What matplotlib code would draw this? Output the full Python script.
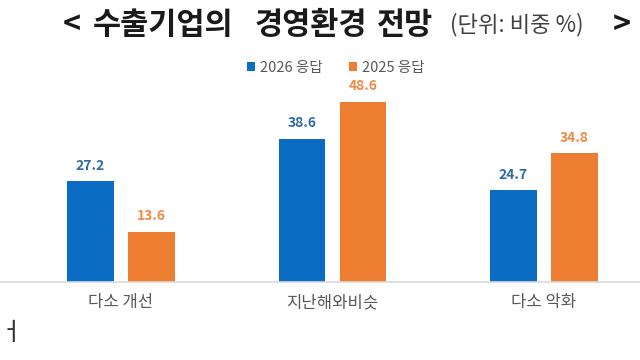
import matplotlib.pyplot as plt
import numpy as np

plt.rcParams['font.family'] = ['Noto Sans CJK KR', 'DejaVu Sans']

categories = ['다소 개선', '지난해와비슷', '다소 악화']
resp_2026 = [27.2, 38.6, 24.7]
resp_2025 = [13.6, 48.6, 34.8]
series_names = ['2026 응답', '2025 응답']

BLUE = '#0a6cc2'
ORANGE = '#ed7d31'


def main():
    fig = plt.figure(figsize=(6.4, 3.6), dpi=100)
    ax = fig.add_axes([0, 0.2167, 1, 0.6183])

    x = np.arange(len(categories))
    w = 0.22
    off = 0.144
    b1 = ax.bar(x - off, resp_2026, w, color=BLUE, label=series_names[0])
    b2 = ax.bar(x + off, resp_2025, w, color=ORANGE, label=series_names[1])

    for bars, col in ((b1, '#2f6aa8'), (b2, '#ee8a45')):
        for r in bars:
            ax.annotate(f'{r.get_height():.1f}', (r.get_x() + r.get_width() / 2, r.get_height()),
                        xytext=(0, 6), textcoords='offset points', ha='center', va='bottom',
                        fontsize=10, fontweight='bold', color=col)

    ax.set_xlim(-0.572, 2.454)
    ax.set_ylim(0, 60)
    ax.set_xticks(x)
    ax.set_xticklabels(categories, fontsize=12, color='#595959')
    ax.tick_params(axis='x', length=0, pad=9)
    ax.set_yticks([])
    for s in ('top', 'right', 'left'):
        ax.spines[s].set_visible(False)
    ax.spines['bottom'].set_color('#d9d9d9')
    ax.spines['bottom'].set_linewidth(1.2)

    leg = fig.legend(loc='center', bbox_to_anchor=(336 / 640, 1 - 68 / 360), ncol=2, frameon=False,
                     fontsize=10.5, handlelength=0.55, handleheight=0.55, handletextpad=0.35,
                     columnspacing=1.8)
    for t in leg.get_texts():
        t.set_color('#595959')

    # title pieces
    ty = 1 - 25 / 360
    kw = dict(fontsize=22, fontweight='bold', va='center', ha='left', color='#1a1a1a')
    fig.text(63 / 640, ty, '<', **kw)
    fig.text(93 / 640, ty, '수출기업의', **kw)
    fig.text(255 / 640, ty, '경영환경', **kw)
    fig.text(377 / 640, ty, '전망', **kw)
    fig.text(450 / 640, ty, '(단위: 비중 %)', fontsize=16, va='center', ha='left', color='#404040')
    fig.text(613 / 640, ty, '>', **kw)

    # character at the bottom-left edge
    fig.text(0, 1 - 333 / 360, 'ㅓ', fontsize=18, va='center', ha='left', color='#333333')

    fig.savefig('out.png', dpi=100)


if __name__ == '__main__':
    main()
